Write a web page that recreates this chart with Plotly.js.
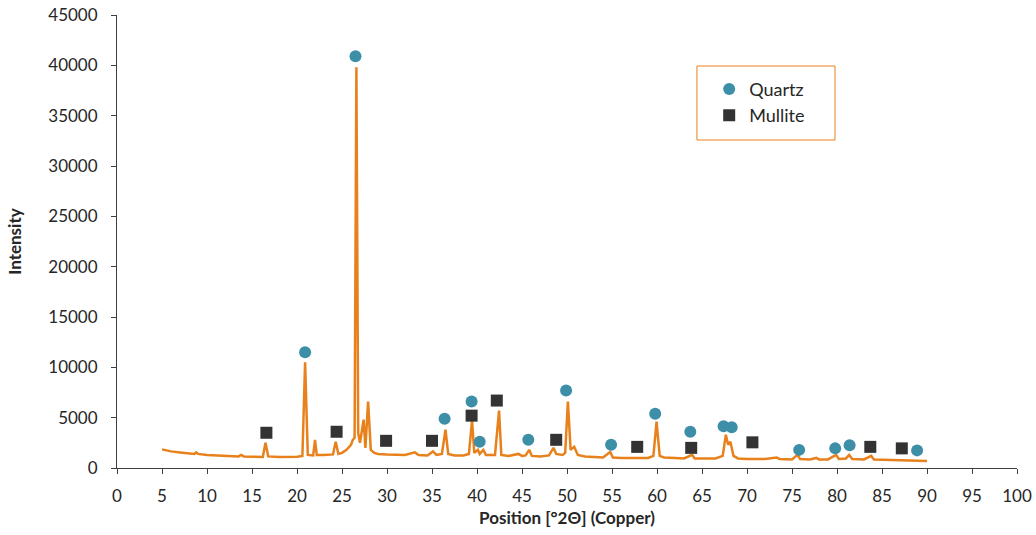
<!DOCTYPE html>
<html>
<head>
<meta charset="utf-8">
<script src="https://cdn.plot.ly/plotly-3.0.1.min.js"></script>
<style>html,body{margin:0;padding:0;background:#fff;}#chart{width:1036px;height:535px;}</style>
</head>
<body>
<div id="chart"></div>
<script>
// XRD pattern
const patternX = [5.0,5.5,6.0,7.0,8.0,8.6,8.8,9.0,10.0,11.0,12.0,13.5,13.8,14.1,15.0,16.2,16.5,16.8,18.0,19.0,20.0,20.6,20.9,21.2,21.8,22.0,22.2,23.0,24.0,24.3,24.6,25.0,25.5,26.0,26.2,26.4,26.6,26.8,27.0,27.4,27.6,27.9,28.2,28.6,29.0,30.0,31.0,32.0,33.1,33.5,34.5,35.1,35.5,36.1,36.5,36.8,37.5,38.5,39.1,39.45,39.7,40.1,40.3,40.7,41.0,42.0,42.45,42.7,43.5,44.6,45.0,45.4,45.8,46.1,47.0,48.0,48.5,48.8,49.5,49.8,50.1,50.4,50.8,51.2,52.0,53.0,54.0,54.8,55.1,56.0,57.0,58.0,59.0,59.6,59.95,60.3,60.8,62.0,63.0,63.9,64.2,65.5,66.5,67.3,67.65,67.9,68.15,68.5,69.0,70.0,71.0,72.0,73.3,73.6,75.0,75.6,75.9,77.0,77.7,78.0,79.0,79.9,80.2,81.0,81.35,81.7,83.0,83.8,84.1,86.0,87.5,89.0,90.0];
const patternY = [1850,1750,1650,1550,1450,1400,1550,1400,1300,1250,1200,1150,1300,1150,1120,1100,2500,1150,1100,1100,1120,1200,10500,1300,1250,2800,1300,1300,1350,2600,1400,1500,1800,2300,2800,3000,39800,3500,2500,4800,2000,6600,1800,1500,1400,1350,1300,1300,1550,1300,1250,1650,1300,1400,3800,1400,1250,1250,1400,4700,1500,1800,1400,1800,1300,1300,5700,1300,1200,1400,1200,1250,1800,1200,1150,1250,2000,1400,1300,1500,6600,1800,2100,1300,1150,1100,1050,1600,1050,1000,1000,1000,1000,1200,4600,1200,1050,1000,950,1300,950,950,950,1200,3300,2300,2600,1200,950,900,900,900,1050,900,850,1300,900,850,1000,850,850,1300,900,950,1300,900,850,1200,850,800,780,750,700];

// Phase markers
const quartzX = [20.9,26.5,36.4,39.4,40.3,45.7,49.9,54.9,59.8,63.7,67.4,68.3,75.8,79.8,81.4,88.9];
const quartzY = [11500,40900,4900,6600,2600,2800,7700,2300,5400,3600,4150,4050,1800,1950,2250,1750];
const mulliteX = [16.6,24.4,29.9,35.0,39.4,42.2,48.8,57.8,63.8,70.6,83.7,87.2];
const mulliteY = [3500,3600,2700,2700,5200,6700,2800,2100,2000,2550,2100,1950];

const xTicks = [0,5,10,15,20,25,30,35,40,45,50,55,60,65,70,75,80,85,90,95,100];
const yTicks = [0,5000,10000,15000,20000,25000,30000,35000,40000,45000];

const FONT = 'Lato, "Open Sans", sans-serif';
const ORANGE = '#E8811C';

const traces = [
  {x: patternX, y: patternY, type: 'scatter', mode: 'lines', showlegend: false,
   line: {color: ORANGE, width: 2.5}, hoverinfo: 'skip'},
  {x: quartzX, y: quartzY, type: 'scatter', mode: 'markers', name: 'Quartz',
   marker: {symbol: 'circle', size: 12, color: '#3D8FA8'}},
  {x: mulliteX, y: mulliteY, type: 'scatter', mode: 'markers', name: 'Mullite',
   marker: {symbol: 'square', size: 12, color: '#333333'}}
];

const layout = {
  width: 1036, height: 535,
  margin: {l: 117, r: 19, t: 15, b: 67},
  paper_bgcolor: '#fff', plot_bgcolor: '#fff',
  font: {family: FONT, color: '#262626', size: 16},
  xaxis: {
    range: [0, 100], tickvals: xTicks, ticktext: xTicks.map(String),
    showgrid: false, zeroline: false, showline: true, linecolor: '#404040', linewidth: 1,
    ticks: 'outside', ticklen: 5, tickcolor: '#404040', ticklabelstandoff: 8,
    tickfont: {family: FONT, size: 17, color: '#262626'},
    title: {text: 'Position [°2Θ] (Copper)', font: {family: FONT, size: 17, color: '#262626', weight: 'bold'}, standoff: 6}
  },
  yaxis: {
    range: [0, 45000], tickvals: yTicks, ticktext: yTicks.map(String),
    showgrid: false, zeroline: false, showline: true, linecolor: '#404040', linewidth: 1,
    ticks: 'outside', ticklen: 5, tickcolor: '#404040', ticklabelstandoff: 10,
    tickfont: {family: FONT, size: 17, color: '#262626'},
    title: {text: 'Intensity', font: {family: FONT, size: 17, color: '#262626', weight: 'bold'}, standoff: 22}
  },
  showlegend: true,
  legend: {
    x: 0.658, y: 0.877, xanchor: 'left', yanchor: 'top',
    bgcolor: 'rgba(0,0,0,0)', borderwidth: 0,
    font: {family: FONT, size: 18, color: '#262626'},
    itemsizing: 'constant'
  },
  shapes: [{
    type: 'rect', xref: 'paper', yref: 'paper',
    x0: 0.6444, x1: 0.7978, y0: 0.724, y1: 0.8874,
    line: {color: ORANGE, width: 1}, fillcolor: 'rgba(0,0,0,0)'
  }]
};

Plotly.newPlot('chart', traces, layout, {displayModeBar: false, staticPlot: true});
</script>
</body>
</html>
